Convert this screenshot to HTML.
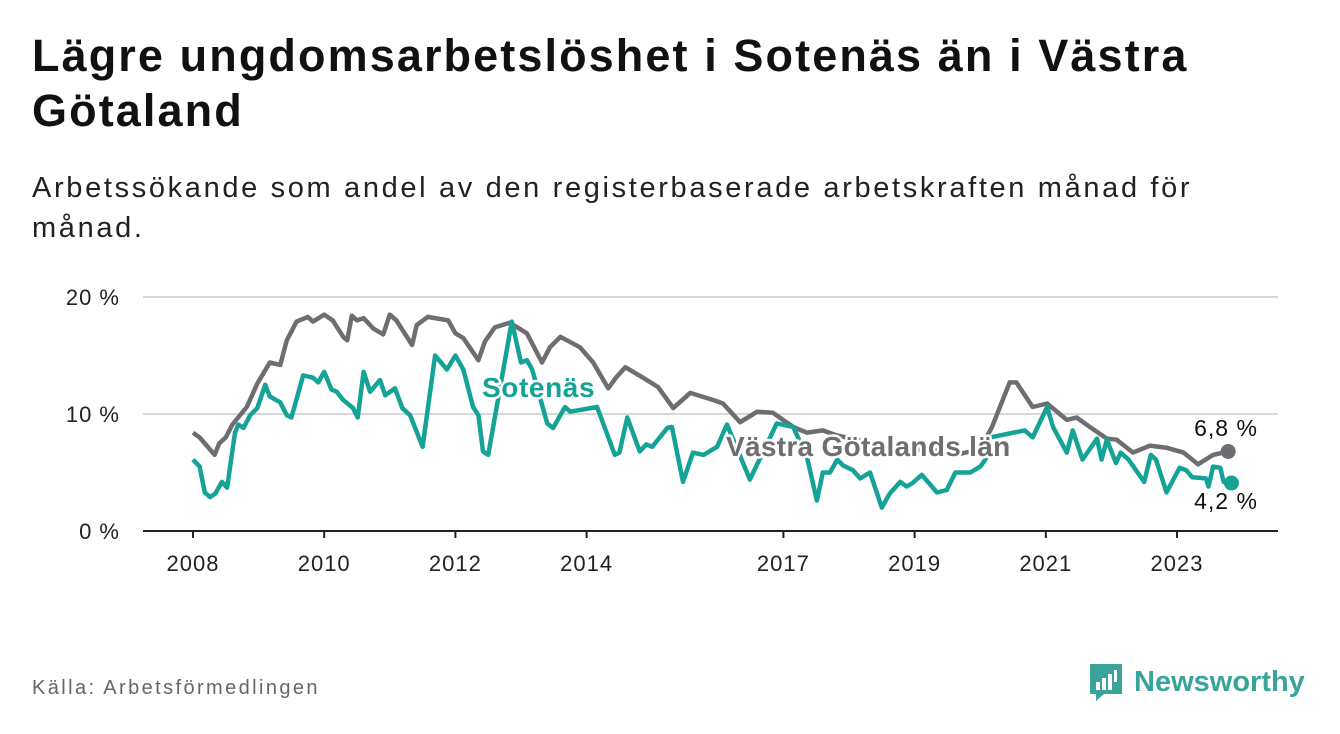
<!DOCTYPE html>
<html><head><meta charset="utf-8">
<style>
body{margin:0;width:1340px;height:734px;background:#fff;font-family:"Liberation Sans",sans-serif;overflow:hidden;position:relative;color:#111}
h1{position:absolute;left:32px;top:28px;margin:0;font-size:45px;line-height:55px;font-weight:bold;letter-spacing:2.1px;width:1300px;color:#111;white-space:nowrap}
.sub{position:absolute;left:32px;top:168px;font-size:29px;line-height:40px;letter-spacing:2.65px;color:#222;width:1300px;white-space:nowrap}
.src{position:absolute;left:32px;top:677px;font-size:20px;letter-spacing:2.4px;color:#666}
.logo{position:absolute;left:1088px;top:662px;display:flex;align-items:center}
.logo span{font-size:29px;font-weight:bold;color:#3aa39a;margin-left:10px}
svg{position:absolute;left:0;top:0}
</style></head><body>
<h1>Lägre ungdomsarbetslöshet i Sotenäs än i Västra<br>Götaland</h1>
<div class="sub">Arbetssökande som andel av den registerbaserade arbetskraften månad för<br>månad.</div>
<svg id="chart" width="1340" height="734"></svg>
<div class="src">Källa: Arbetsförmedlingen</div>
<div class="logo">
<svg style="position:static" width="36" height="40" viewBox="0 0 36 40"><path d="M2 2h32v30H16l-8 7v-7H2z" fill="#3aa39a"/><rect x="8" y="20" width="4" height="8" fill="#fff"/><rect x="14" y="16" width="4" height="12" fill="#fff"/><rect x="20" y="12" width="4" height="16" fill="#fff"/><rect x="26" y="8" width="3" height="12" fill="#fff"/></svg>
<span>Newsworthy</span></div>
<script>
const yTicks=[0,10,20];
const yTickLabels=["0 %","10 %","20 %"];
const xTicks=[2008,2010,2012,2014,2017,2019,2021,2023];
const grayYears=[2008.0,2008.1,2008.33,2008.4,2008.5,2008.6,2008.82,2008.98,2009.17,2009.33,2009.43,2009.58,2009.75,2009.83,2010.0,2010.13,2010.29,2010.35,2010.42,2010.5,2010.6,2010.75,2010.9,2011.0,2011.1,2011.34,2011.41,2011.58,2011.89,2012.0,2012.12,2012.35,2012.45,2012.6,2012.83,2013.09,2013.32,2013.44,2013.6,2013.9,2014.1,2014.33,2014.46,2014.59,2014.86,2015.09,2015.32,2015.58,2015.93,2016.08,2016.34,2016.6,2016.84,2017.15,2017.36,2017.6,2017.8,2018.1,2018.5,2018.9,2019.3,2019.7,2020.0,2020.18,2020.45,2020.55,2020.8,2021.02,2021.32,2021.47,2021.67,2021.93,2022.08,2022.33,2022.59,2022.85,2023.1,2023.32,2023.55,2023.78];
const grayValues=[8.4,8.0,6.5,7.5,8.0,9.1,10.6,12.6,14.4,14.2,16.3,17.9,18.3,17.9,18.5,18.0,16.6,16.3,18.4,18.0,18.2,17.3,16.8,18.5,18.0,15.9,17.6,18.3,18.0,16.9,16.5,14.6,16.2,17.4,17.8,16.9,14.4,15.7,16.6,15.7,14.4,12.2,13.2,14.0,13.1,12.3,10.5,11.8,11.2,10.9,9.3,10.2,10.1,8.9,8.4,8.6,8.2,7.8,7.3,7.0,6.9,6.6,7.0,8.9,12.7,12.7,10.6,10.9,9.5,9.7,8.9,7.9,7.8,6.7,7.3,7.1,6.7,5.7,6.5,6.8];
const tealYears=[2008.0,2008.1,2008.18,2008.26,2008.34,2008.44,2008.52,2008.64,2008.69,2008.77,2008.87,2008.98,2009.1,2009.17,2009.33,2009.43,2009.5,2009.68,2009.83,2009.91,2010.0,2010.11,2010.19,2010.29,2010.44,2010.51,2010.6,2010.7,2010.85,2010.93,2011.08,2011.19,2011.31,2011.5,2011.69,2011.87,2012.0,2012.12,2012.27,2012.35,2012.42,2012.5,2012.86,2013.0,2013.09,2013.17,2013.4,2013.49,2013.67,2013.75,2014.16,2014.43,2014.5,2014.62,2014.81,2014.91,2015.0,2015.23,2015.3,2015.47,2015.62,2015.78,2015.99,2016.14,2016.49,2016.9,2017.15,2017.36,2017.51,2017.6,2017.71,2017.82,2017.91,2018.06,2018.17,2018.32,2018.5,2018.62,2018.78,2018.88,2018.97,2019.11,2019.34,2019.49,2019.62,2019.85,2020.0,2020.08,2020.15,2020.68,2020.8,2021.02,2021.11,2021.32,2021.41,2021.56,2021.78,2021.85,2021.93,2022.07,2022.14,2022.26,2022.5,2022.6,2022.68,2022.84,2023.04,2023.14,2023.23,2023.44,2023.48,2023.55,2023.66,2023.71,2023.83];
const tealValues=[6.1,5.5,3.3,2.9,3.2,4.2,3.7,8.4,9.1,8.8,9.9,10.5,12.5,11.5,11.0,9.9,9.7,13.3,13.1,12.7,13.6,12.1,11.9,11.2,10.5,9.7,13.6,11.9,12.9,11.6,12.2,10.5,9.9,7.2,15.0,13.8,15.0,13.8,10.6,9.9,6.8,6.5,17.9,14.4,14.6,13.8,9.2,8.8,10.6,10.2,10.6,6.5,6.7,9.7,6.8,7.4,7.2,8.8,8.9,4.2,6.7,6.5,7.2,9.1,4.4,9.2,8.9,6.3,2.6,5.0,5.0,6.1,5.6,5.2,4.5,5.0,2.0,3.2,4.2,3.8,4.1,4.8,3.3,3.5,5.0,5.0,5.5,6.1,8.0,8.6,8.0,10.6,8.9,6.7,8.6,6.1,7.9,6.1,7.8,5.8,6.7,6.1,4.2,6.5,6.1,3.3,5.4,5.2,4.6,4.5,3.8,5.5,5.4,4.2,4.1];
const NS="http://www.w3.org/2000/svg";
const svg=document.getElementById('chart');
const X=y=>193+(y-2008)*65.6;
const Y=v=>531-v*11.7;
function mk(t,a){const e=document.createElementNS(NS,t);for(const k in a)e.setAttribute(k,a[k]);svg.appendChild(e);return e;}
yTicks.forEach((v,i)=>{
 if(v>0){const g=mk('line',{x1:143,x2:1278,y1:Y(v),y2:Y(v),stroke:'#d8d8d8','stroke-width':2});
 
 }
 const t=mk('text',{x:120,y:Y(v)+8,'text-anchor':'end','font-size':22,'letter-spacing':1,fill:'#222'});t.textContent=yTickLabels[i];
 
 
});
const ax=mk('line',{x1:143,x2:1278,y1:531,y2:531,stroke:'#222','stroke-width':2});


xTicks.forEach(yr=>{
 const tk=mk('line',{x1:X(yr),x2:X(yr),y1:531,y2:538,stroke:'#222','stroke-width':2});
 
 
 const t=mk('text',{x:X(yr),y:571,'text-anchor':'middle','font-size':22,'letter-spacing':1,fill:'#222'});t.textContent=yr;
 
 
});
function line(ys,vs,c,name){
 const d=ys.map((y,i)=>(i?'L':'M')+X(y).toFixed(1)+' '+Y(vs[i]).toFixed(1)).join(' ');
 const p=mk('path',{d:d,fill:'none',stroke:c,'stroke-width':4.5,'stroke-linejoin':'round'});
 
 
 const n=ys.length-1;
 const dot=mk('circle',{cx:X(ys[n]),cy:Y(vs[n]),r:7.5,fill:c});
 
 
}
line(grayYears,grayValues,'#6e6d72','vastra-gotaland-line');
line(tealYears,tealValues,'#14a396','sotenas-line');
function lab(x,y,s,c,sz,w,name,anchor,ls){
 const t=mk('text',{x:x,y:y,'font-size':sz,'font-weight':w,fill:c,stroke:'#fff','stroke-width':5,'paint-order':'stroke','stroke-linejoin':'round','text-anchor':anchor||'start','letter-spacing':ls||0});
 t.textContent=s;
 
 
}
lab(482,397,'Sotenäs','#14a396',28,'bold','sotenas-label','start',0.6);
lab(726,456,'Västra Götalands län','#6e6d72',28,'bold','vastra-gotaland-label','start',0.3);
lab(1226,436,'6,8 %','#111',23,'normal','gray-end-value','middle',1);
lab(1226,509,'4,2 %','#111',23,'normal','teal-end-value','middle',1);
</script>
</body></html>
